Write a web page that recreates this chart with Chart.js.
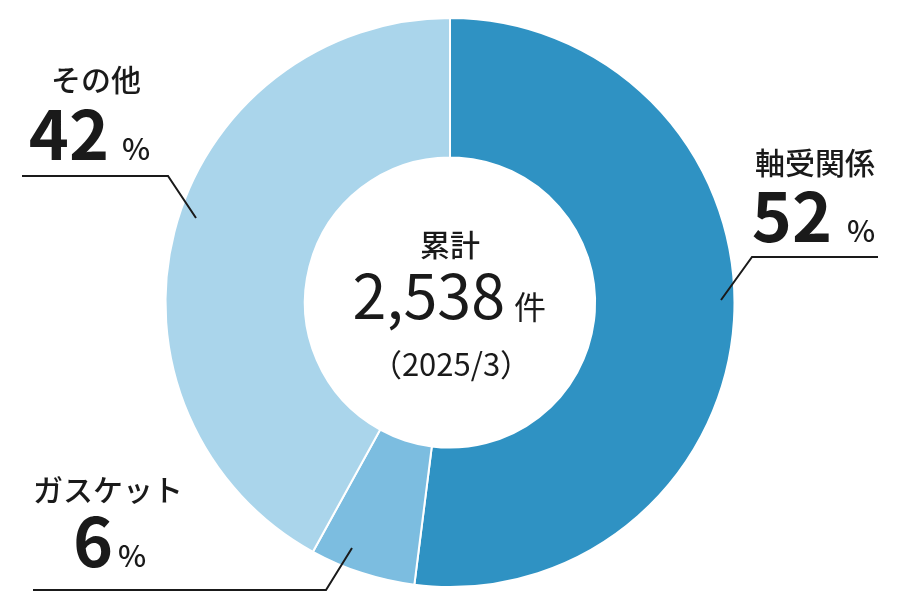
<!DOCTYPE html>
<html lang="ja">
<head>
<meta charset="utf-8">
<script src="https://cdn.jsdelivr.net/npm/chart.js@4/dist/chart.umd.min.js"></script>
<style>
  html, body { margin: 0; padding: 0; background: #fff; }
  #wrap { width: 900px; height: 600px; position: relative; }
</style>
</head>
<body>
<div id="wrap"><canvas id="canvas"></canvas></div>
<script>
'use strict';

// chart data
const categories = ['軸受関係', 'ガスケット', 'その他'];
const shares = [52, 6, 42];
const sliceColors = ['#2f92c3', '#7cbde0', '#aad5eb'];
const totalLabel = '累計';
const totalCount = '2,538';
const totalUnit = '件';
const totalDate = '（2025/3）';

const FONT = '"Noto Sans CJK JP", "Noto Sans", sans-serif';

// label callouts (text spot + leader line)
const callouts = [
  { name: 0, nameX: 815, nameY: 163, numX: 832, numY: 242, pctX: 847, line: [[721, 300], [752, 257], [878, 257]] },
  { name: 1, nameX: 108, nameY: 490, numX: 113, numY: 567, pctX: 118, line: [[352, 548], [326, 590], [33, 590]] },
  { name: 2, nameX: 96, nameY: 80, numX: 109, numY: 160, pctX: 122, line: [[196, 218], [168, 176], [22, 176]] }
];

const labelPlugin = {
  id: 'labels',
  afterDraw(chart) {
    const ctx = chart.ctx;
    ctx.save();
    ctx.fillStyle = '#1a1a1a';
    ctx.strokeStyle = '#1a1a1a';
    ctx.lineWidth = 2;

    callouts.forEach(c => {
      ctx.beginPath();
      ctx.moveTo(c.line[0][0], c.line[0][1]);
      for (let i = 1; i < c.line.length; i++) ctx.lineTo(c.line[i][0], c.line[i][1]);
      ctx.stroke();

      ctx.font = '500 30px ' + FONT;
      ctx.textAlign = 'center';
      ctx.textBaseline = 'middle';
      ctx.fillText(categories[c.name], c.nameX, c.nameY);

      ctx.textBaseline = 'alphabetic';
      ctx.textAlign = 'right';
      ctx.font = 'bold 68px ' + FONT;
      ctx.fillText(String(shares[c.name]), c.numX, c.numY);
      ctx.textAlign = 'left';
      ctx.font = '500 30px ' + FONT;
      ctx.fillText('%', c.pctX, c.numY);
    });

    // center text
    const cx = 450;
    ctx.textAlign = 'center';
    ctx.textBaseline = 'middle';
    ctx.font = '500 30px ' + FONT;
    ctx.fillText(totalLabel, cx, 245);

    ctx.textBaseline = 'alphabetic';
    ctx.textAlign = 'right';
    ctx.font = '400 61px ' + FONT;
    ctx.fillText(totalCount, 505, 319);
    ctx.textAlign = 'left';
    ctx.font = '400 32px ' + FONT;
    ctx.fillText(totalUnit, 514, 319);

    ctx.textAlign = 'center';
    ctx.textBaseline = 'middle';
    ctx.font = '400 31px ' + FONT;
    ctx.fillText(totalDate, cx + 1, 364);
    ctx.restore();
  }
};

new Chart(document.getElementById('canvas').getContext('2d'), {
  type: 'doughnut',
  data: {
    labels: categories,
    datasets: [
      {
        data: shares,
        backgroundColor: sliceColors,
        borderColor: '#ffffff',
        borderWidth: 2
      }
    ]
  },
  options: {
    responsive: true,
    maintainAspectRatio: false,
    animation: false,
    cutout: '51%',
    layout: { padding: { top: 17, bottom: 12 } },
    plugins: {
      legend: { display: false },
      tooltip: { enabled: false }
    }
  },
  plugins: [labelPlugin]
});
</script>
</body>
</html>
